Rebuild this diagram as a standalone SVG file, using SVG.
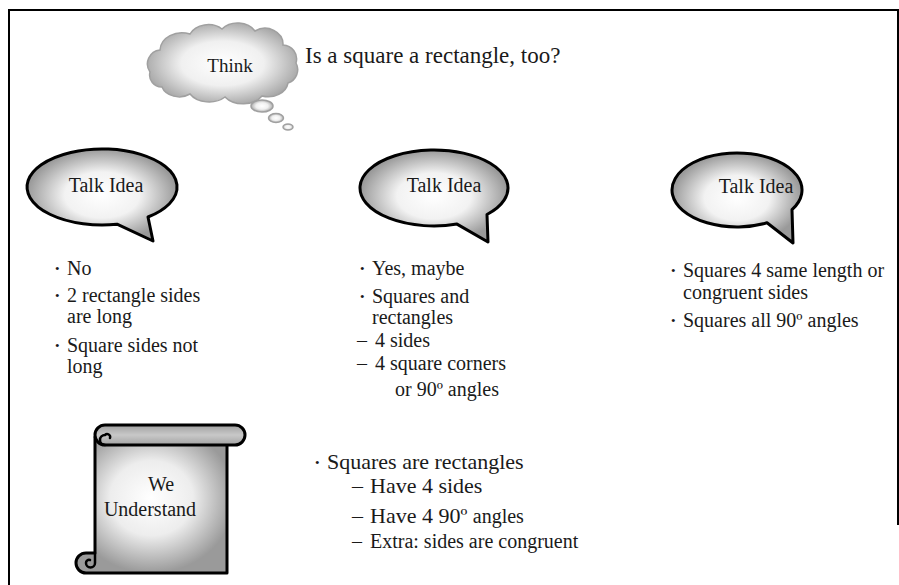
<svg xmlns="http://www.w3.org/2000/svg" width="899" height="585" viewBox="0 0 899 585">
<defs>
<radialGradient id="gShade" cx="0.5" cy="0.5" r="0.5">
<stop offset="0" stop-color="#ffffff"/>
<stop offset="0.5" stop-color="#f2f2f2"/>
<stop offset="1" stop-color="#9a9a9a"/>
</radialGradient>
<radialGradient id="gCloud" cx="0.5" cy="0.5" r="0.55">
<stop offset="0" stop-color="#ffffff"/>
<stop offset="0.5" stop-color="#f0f0f0"/>
<stop offset="1" stop-color="#a0a0a0"/>
</radialGradient>
<radialGradient id="gScroll" cx="0.5" cy="0.45" r="0.55">
<stop offset="0" stop-color="#ffffff"/>
<stop offset="0.5" stop-color="#ededed"/>
<stop offset="1" stop-color="#9a9a9a"/>
</radialGradient>
<linearGradient id="gRoll" x1="0" y1="0" x2="0" y2="1">
<stop offset="0" stop-color="#a0a0a0"/>
<stop offset="0.5" stop-color="#c8c8c8"/>
<stop offset="1" stop-color="#a3a3a3"/>
</linearGradient>
</defs>
<style>
text{fill:#1a1a1a}
.b{font-size:20px}
.bl{font-size:22px}
.dot{font-size:13px}
.lbl{font-size:20px;text-anchor:middle}
.bub{fill:url(#gShade);stroke:#000;stroke-width:3;stroke-linejoin:round}
.cloud{fill:url(#gCloud);stroke:#a0a0a0;stroke-width:1.5}
.scroll{fill:url(#gScroll);stroke:#000;stroke-width:3;stroke-linejoin:round}
.roll{fill:url(#gRoll);stroke:#000;stroke-width:3}
.curl{fill:none;stroke:#000;stroke-width:2.5;stroke-linecap:round}
.frame{fill:none;stroke:#000;stroke-width:2}
</style>
<rect width="899" height="585" fill="#fff"/>
<path class="frame" d="M9,585 V10 H899"/>
<path class="frame" d="M898,10 V525"/>

<g font-family="Liberation Serif, Times New Roman, DejaVu Serif, serif">
<g id="think">
<path class="cloud" d="M150,72 A14,14 0 0 1 160,50 A22,18 0 0 1 190,34 A20,16 0 0 1 222,29 A20,16 0 0 1 255,31 A18,16 0 0 1 283,45 A14,14 0 0 1 296,63 A14,14 0 0 1 288,83 A20,16 0 0 1 262,96 A22,16 0 0 1 225,97 A22,16 0 0 1 190,94 A18,14 0 0 1 162,87 A12,12 0 0 1 150,72 Z"/>
<ellipse class="cloud" cx="262" cy="106" rx="11" ry="6"/>
<ellipse class="cloud" cx="276" cy="118" rx="7.5" ry="4.5"/>
<ellipse class="cloud" cx="288" cy="127" rx="5" ry="3"/>
<text x="230" y="72" font-size="19" text-anchor="middle">Think</text>
</g>

<g id="question">
<text x="305" y="63" font-size="23">Is a square a rectangle, too?</text>
</g>

<g id="talk1">
<path class="bub" d="M117,224.2 A75,38 0 1 1 148,217 L153,241 Z"/>
<text class="lbl" x="106" y="192">Talk Idea</text>
</g>

<g id="talk2">
<path class="bub" d="M457,224.1 A74,38 0 1 1 487,214.5 L488,242 Z"/>
<text class="lbl" x="444" y="192">Talk Idea</text>
</g>

<g id="talk3">
<path class="bub" d="M767,222.8 A65,37 0 1 1 792,209.7 L793,243 Z"/>
<text class="lbl" x="756" y="193">Talk Idea</text>
</g>

<g id="list1">
<text class="dot" x="55" y="273">•</text><text class="b" x="67" y="275">No</text>
<text class="dot" x="55" y="300">•</text><text class="b" x="67" y="302">2 rectangle sides</text>
<text class="b" x="67" y="323">are long</text>
<text class="dot" x="55" y="350">•</text><text class="b" x="67" y="352">Square sides not</text>
<text class="b" x="67" y="373">long</text>
</g>

<g id="list2">
<text class="dot" x="360" y="273">•</text><text class="b" x="372" y="275">Yes, maybe</text>
<text class="dot" x="360" y="301">•</text><text class="b" x="372" y="303">Squares and</text>
<text class="b" x="372" y="324">rectangles</text>
<text class="b" x="357" y="347">–</text><text class="b" x="375" y="347">4 sides</text>
<text class="b" x="357" y="370">–</text><text class="b" x="375" y="370">4 square corners</text>
<text class="b" x="395" y="396">or 90º angles</text>
</g>

<g id="list3">
<text class="dot" x="671" y="275">•</text><text class="b" x="683" y="277">Squares 4 same length or</text>
<text class="b" x="683" y="299">congruent sides</text>
<text class="dot" x="671" y="325">•</text><text class="b" x="683" y="327">Squares all 90º angles</text>
</g>

<g id="understand">
<path class="scroll" d="M95,437 H227 V573 H86 A10,10 0 0 1 86,553 H95 Z"/>
<path class="curl" d="M95,553 V563 A4.5,4.5 0 0 1 86,563 A3,3 0 0 1 90,560"/>
<rect class="roll" x="95" y="425" width="150" height="20" rx="10"/>
<path class="curl" d="M105,445 A5,5 0 0 1 105,435 A3,3 0 0 1 110,438"/>
<text class="lbl" x="161" y="491">We</text>
<text class="lbl" x="150" y="516">Understand</text>
</g>

<g id="conclusion">
<text class="dot" x="315" y="467">•</text><text class="bl" x="327" y="469">Squares are rectangles</text>
<text class="bl" x="352" y="493">–</text><text class="bl" x="370" y="493">Have 4 sides</text>
<text class="bl" x="352" y="523">–</text><text class="bl" x="370" y="523">Have 4 90º <tspan font-size="20">angles</tspan></text>
<text class="b" x="352" y="548">–</text><text class="b" x="370" y="548">Extra: sides are congruent</text>
</g>
</g>
</svg>
